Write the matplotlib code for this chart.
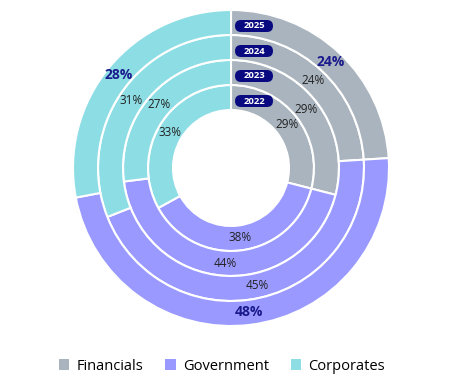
import matplotlib
matplotlib.use("Agg")
import matplotlib.pyplot as plt
from matplotlib.patches import Patch, FancyBboxPatch

categories = ["Financials", "Government", "Corporates"]
years = ["2022", "2023", "2024", "2025"]
values = {
    "2022": [29, 38, 33],
    "2023": [29, 44, 27],
    "2024": [24, 45, 31],
    "2025": [24, 48, 28],
}
colors = ["#aab4be", "#9999ff", "#8cdde4"]

W, H = 450, 385
fig = plt.figure(figsize=(W / 100, H / 100), dpi=100)
ax = fig.add_axes([0, 0, 1, 1])

cx, cy = 231, H - 168
r_hole = 58
ring_w = 25

for i, yr in enumerate(years):
    r = r_hole + ring_w * (i + 1)
    outer = (i == len(years) - 1)
    ax.pie(
        values[yr], colors=colors, radius=r, center=(cx, cy),
        startangle=90, counterclock=False,
        wedgeprops=dict(width=ring_w, edgecolor="white", linewidth=1.5),
        autopct=lambda p: f"{p:.0f}%", pctdistance=(r - ring_w / 2) / r,
        textprops=dict(fontsize=10 if outer else 8.5,
                       color="#1a1a8c" if outer else "#222222",
                       fontweight="bold" if outer else "normal",
                       family="Open Sans"),
        frame=True,
    )
    # year pill
    py = cy + r - ring_w / 2 - 3.5
    pw, ph = 38, 12
    ax.add_patch(FancyBboxPatch((254 - pw / 2, py - ph / 2), pw, ph,
                                boxstyle="round,pad=0,rounding_size=6",
                                fc="#0a0a80", ec="none", zorder=5))
    ax.text(254, py, yr, ha="center", va="center", zorder=6,
            fontsize=6.8, fontweight="bold", color="white", family="Open Sans")

ax.set_xlim(0, W)
ax.set_ylim(0, H)
ax.set_aspect("equal")
ax.axis("off")

handles = [Patch(facecolor=c, edgecolor="none") for c in colors]
fig.legend(handles, categories, loc="center", bbox_to_anchor=(222 / W, 1 - 366 / H),
           ncol=3, frameon=False, handlelength=0.7, handleheight=0.7,
           handletextpad=0.5, columnspacing=1.5, prop=dict(family="Open Sans", size=10.5))

fig.savefig("out.png", dpi=100)
